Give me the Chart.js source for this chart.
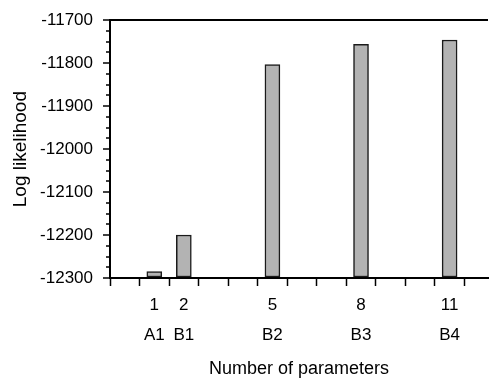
<!DOCTYPE html>
<html>
<head>
<meta charset="utf-8">
<script src="https://cdn.jsdelivr.net/npm/chart.js@4.4.1/dist/chart.umd.min.js"></script>
<style>
  html, body { margin: 0; padding: 0; background: #fff; }
  #wrap { width: 489px; height: 381px; position: relative; }
</style>
</head>
<body>
<div id="wrap"><canvas id="c"></canvas></div>
<script>
// ---- data ----
const paramCounts = [1, 2, 5, 8, 11];
const modelNames = ['A1', 'B1', 'B2', 'B3', 'B4'];
const logLikelihood = [-12285, -12200, -11803, -11756, -11746];
const yMin = -12300;
const yMax = -11700;
const xMin = -0.5;
const xMax = 12.3;
const yTitle = 'Log likelihood';
const xTitle = 'Number of parameters';

const FONT = "'Liberation Sans', Arial, sans-serif";
const BLACK = '#000000';

const chart = new Chart(document.getElementById('c'), {
  type: 'bar',
  data: {
    datasets: [{
      data: paramCounts.map((x, i) => ({ x: x, y: logLikelihood[i] })),
      base: yMin,
      backgroundColor: '#b3b3b3',
      borderColor: '#1a1a1a',
      borderWidth: 1.5,
      borderSkipped: false,
      barThickness: 15
    }]
  },
  options: {
    responsive: true,
    maintainAspectRatio: false,
    animation: false,
    layout: { padding: { top: 19, right: 1, left: 0, bottom: 0 } },
    plugins: { legend: { display: false }, tooltip: { enabled: false } },
    scales: {
      x: {
        type: 'linear',
        position: 'bottom',
        min: xMin,
        max: xMax,
        offset: false,
        afterBuildTicks: (scale) => {
          const vals = [];
          for (let v = xMin; v <= xMax; v += 1) vals.push(v);
          paramCounts.forEach(p => vals.push(p));
          vals.sort((a, b) => a - b);
          scale.ticks = vals.map(v => ({ value: v }));
        },
        afterFit: (scale) => { scale.height = 103; },
        grid: {
          display: true,
          drawOnChartArea: false,
          offset: false,
          tickLength: 8,
          tickWidth: 1.5,
          tickColor: (ctx) => (ctx.tick && Number.isInteger(ctx.tick.value)) ? 'rgba(0,0,0,0)' : BLACK
        },
        border: { display: true, color: BLACK, width: 2 },
        ticks: {
          autoSkip: false,
          maxRotation: 0,
          padding: 5,
          color: BLACK,
          font: { family: FONT, size: 17, lineHeight: 1.72 },
          callback: (value) => {
            const i = paramCounts.indexOf(value);
            return i >= 0 ? [String(value), modelNames[i]] : '';
          }
        },
        title: {
          display: true,
          text: xTitle,
          color: BLACK,
          font: { family: FONT, size: 18 },
          padding: { top: 0, bottom: 1 }
        }
      },
      y: {
        type: 'linear',
        position: 'left',
        min: yMin,
        max: yMax,
        afterFit: (scale) => { scale.width = 110; },
        ticks: {
          stepSize: 25,
          autoSkip: false,
          padding: 10,
          color: BLACK,
          font: { family: FONT, size: 17 },
          callback: (value) => (value % 100 === 0) ? String(value) : ''
        },
        grid: {
          display: true,
          drawOnChartArea: true,
          tickLength: 7,
          tickWidth: 1.5,
          lineWidth: 2,
          color: (ctx) => (ctx.tick && ctx.tick.value === yMax) ? BLACK : 'rgba(0,0,0,0)',
          tickColor: BLACK,
          tickBorderDash: (ctx) => (ctx.tick && ctx.tick.value % 100 !== 0) ? [0, 3, 4, 50] : []
        },
        border: { display: true, color: BLACK, width: 2 },
        title: {
          display: true,
          text: yTitle,
          color: BLACK,
          font: { family: FONT, size: 19 },
          padding: { top: 9, bottom: 0 }
        }
      }
    }
  }
});
</script>
</body>
</html>
